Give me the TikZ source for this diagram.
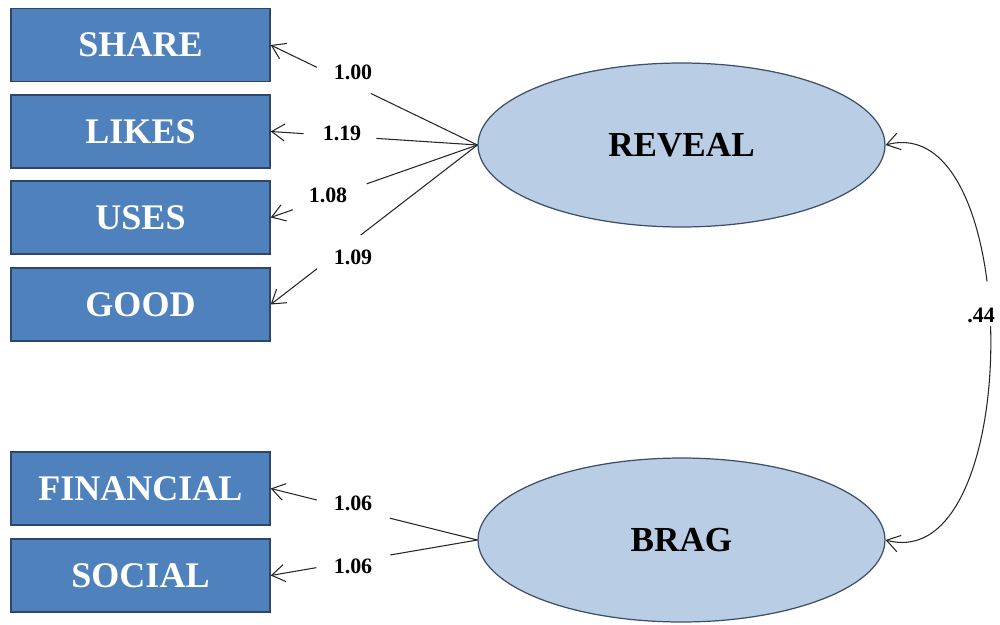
\documentclass[tikz,border=0pt]{standalone}
\usepackage{fontspec}
\setmainfont{Liberation Serif}
\usetikzlibrary{arrows.meta,shapes.geometric}
\definecolor{boxfill}{HTML}{4F81BD}
\definecolor{boxline}{HTML}{2E4668}
\definecolor{ellfill}{HTML}{B9CDE5}
\definecolor{ellline}{HTML}{3E4E68}
\begin{document}
\begin{tikzpicture}[x=0.02cm,y=-0.02cm,
  indicator/.style={draw=boxline,line width=0.8pt,fill=boxfill,minimum width=5.18cm,minimum height=1.46cm,
    inner sep=0pt,text=white,font=\fontsize{20.5}{22}\selectfont\bfseries},
  latent/.style={ellipse,draw=ellline,line width=0.7pt,fill=ellfill,minimum width=8.14cm,minimum height=3.28cm,
    inner sep=0pt,font=\fontsize{20}{22}\selectfont\bfseries},
  path/.style={draw=black!85,line width=0.6pt,-{Straight Barb[length=2.6mm,width=3.4mm]}},
  corr/.style={draw=black!85,line width=0.6pt,{Straight Barb[length=2.6mm,width=3.4mm]}-{Straight Barb[length=2.6mm,width=3.4mm]}},
  gap/.style={circle,fill=white,inner sep=0pt},
  coef/.style={font=\fontsize{12.5}{14}\selectfont\bfseries,inner sep=1pt}]
\useasboundingbox (0,0) rectangle (1000,625);

% observed indicators
\node[indicator] (share) at (140.5,45) {SHARE};
\node[indicator] (likes) at (140.5,131.5) {LIKES};
\node[indicator] (uses) at (140.5,217.5) {USES};
\node[indicator] (good) at (140.5,304.5) {GOOD};
\node[indicator] (fin) at (140.5,488.5) {FINANCIAL};
\node[indicator] (soc) at (140.5,575.5) {SOCIAL};

% latent factors
\node[latent] (reveal) at (681.5,145) {REVEAL};
\node[latent] (brag) at (681.5,540) {BRAG};

% loadings, each line broken where its coefficient sits
\draw[path] (reveal.west) -- node[gap,minimum size=1.2cm,pos=0.646]{} (share.east);
\draw[path] (reveal.west) -- node[gap,minimum size=1.46cm,pos=0.665]{} (likes.east);
\draw[path] (reveal.west) -- node[gap,minimum size=1.56cm,pos=0.714]{} (uses.east);
\draw[path] (reveal.west) -- node[gap,minimum size=1.1cm,pos=0.67]{} (good.east);
\draw[path] (brag.west) -- node[gap,minimum size=1.5cm,pos=0.6]{} (fin.east);
\draw[path] (brag.west) -- node[gap,minimum size=1.5cm,pos=0.6]{} (soc.east);

% factor correlation, broken around its coefficient
\draw[corr] (reveal.east) to[out=15,in=-15,looseness=0.94]
  node[gap,minimum size=0.9cm,pos=0.44]{} (brag.east);

\node[coef] (c1) at (353,72) {1.00};
\node[coef] (c2) at (342,133) {1.19};
\node[coef] (c3) at (328,195) {1.08};
\node[coef] (c4) at (353,257) {1.09};
\node[coef] (c5) at (353,503) {1.06};
\node[coef] (c6) at (353,566) {1.06};
\node[coef] (c7) at (981,315) {.44};
\end{tikzpicture}
\end{document}
